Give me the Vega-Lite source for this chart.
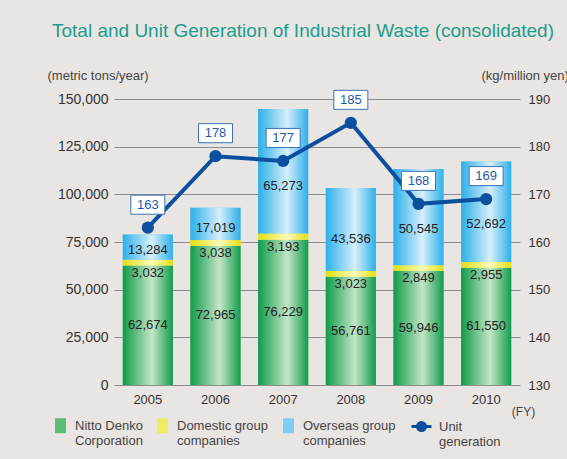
{
  "$schema": "https://vega.github.io/schema/vega-lite/v6.json",
  "width": 406,
  "height": 286,
  "autosize": {"type": "none"},
  "padding": {"left": 114, "top": 99, "right": 47, "bottom": 74},
  "background": "#e9e5e2",
  "config": {
    "view": {"stroke": null},
    "font": "Liberation Sans",
    "axis": {"labelFont": "Liberation Sans", "titleFont": "Liberation Sans", "labelColor": "#333333", "titleColor": "#444444", "titleFontWeight": "normal"},
    "legend": {"labelFont": "Liberation Sans", "labelColor": "#444444", "labelFontSize": 13}
  },
  "title": {
    "text": "Total and Unit Generation of Industrial Waste (consolidated)",
    "anchor": "start",
    "frame": "group",
    "dx": -62,
    "dy": -24,
    "fontSize": 19,
    "fontWeight": "normal",
    "font": "Liberation Sans",
    "color": "#1b9e8e"
  },
  "datasets": {
    "waste": [
      {"year": "2005", "segment": "Nitto Denko Corporation", "tons": 62674},
      {"year": "2005", "segment": "Domestic group companies", "tons": 3032},
      {"year": "2005", "segment": "Overseas group companies", "tons": 13284},
      {"year": "2006", "segment": "Nitto Denko Corporation", "tons": 72965},
      {"year": "2006", "segment": "Domestic group companies", "tons": 3038},
      {"year": "2006", "segment": "Overseas group companies", "tons": 17019},
      {"year": "2007", "segment": "Nitto Denko Corporation", "tons": 76229},
      {"year": "2007", "segment": "Domestic group companies", "tons": 3193},
      {"year": "2007", "segment": "Overseas group companies", "tons": 65273},
      {"year": "2008", "segment": "Nitto Denko Corporation", "tons": 56761},
      {"year": "2008", "segment": "Domestic group companies", "tons": 3023},
      {"year": "2008", "segment": "Overseas group companies", "tons": 43536},
      {"year": "2009", "segment": "Nitto Denko Corporation", "tons": 59946},
      {"year": "2009", "segment": "Domestic group companies", "tons": 2849},
      {"year": "2009", "segment": "Overseas group companies", "tons": 50545},
      {"year": "2010", "segment": "Nitto Denko Corporation", "tons": 61550},
      {"year": "2010", "segment": "Domestic group companies", "tons": 2955},
      {"year": "2010", "segment": "Overseas group companies", "tons": 52692}
    ],
    "unit": [
      {"year": "2005", "unit": 163},
      {"year": "2006", "unit": 178},
      {"year": "2007", "unit": 177},
      {"year": "2008", "unit": 185},
      {"year": "2009", "unit": 168},
      {"year": "2010", "unit": 169}
    ]
  },
  "layer": [
    {
      "data": {"name": "waste"},
      "transform": [{"stack": "tons", "groupby": ["year"], "as": ["t0", "t1"]}],
      "layer": [
        {
          "mark": {"type": "bar"},
          "encoding": {
            "x": {
              "field": "year", "type": "nominal",
              "scale": {"paddingInner": 0.26, "paddingOuter": 0.13},
              "axis": {"title": "(FY)", "titleX": 409, "titleY": 26, "titleAlign": "center", "titleBaseline": "middle", "titleFontSize": 12, "labelAngle": 0, "domain": false, "ticks": false, "labelPadding": 8, "labelFontSize": 13}
            },
            "y": {
              "field": "t0", "type": "quantitative",
              "scale": {"domain": [0, 150000], "nice": false},
              "title": "(metric tons/year)",
              "axis": {"titleAngle": 0, "titleX": -67, "titleY": -24, "titleAlign": "left", "titleBaseline": "middle", "titleFontSize": 13, "grid": true, "gridColor": "#8c8c8c", "domain": false, "ticks": false, "labelPadding": 6, "labelFontSize": 14, "values": [0, 25000, 50000, 75000, 100000, 125000, 150000], "labelExpr": "format(datum.value, ',')"}
            },
            "y2": {"field": "t1"},
            "color": {
              "field": "segment", "type": "nominal",
              "scale": {
                "domain": ["Nitto Denko Corporation", "Domestic group companies", "Overseas group companies"],
                "range": ["#5cbd78", "#eeec60", "#7fcdf0"]
              },
              "legend": {
                "orient": "none", "legendX": -61, "legendY": 319, "direction": "horizontal", "columns": 3, "title": null,
                "symbolType": "M-0.733,-1H0.733V1H-0.733Z", "symbolSize": 225, "symbolStrokeWidth": 0,
                "columnPadding": 12, "labelOffset": 7, "labelBaseline": "middle",
                "labelExpr": "datum.label == 'Nitto Denko Corporation' ? ['Nitto Denko', 'Corporation'] : datum.label == 'Domestic group companies' ? ['Domestic group', 'companies'] : ['Overseas group', 'companies']",
                "encode": {
                  "labels": {"update": {"lineHeight": {"value": 15}}},
                  "symbols": {
                    "update": {
                      "fill": {"signal": "datum.value == 'Nitto Denko Corporation' ? {gradient: 'linear', x1: 0, y1: 0, x2: 1, y2: 0, stops: [{offset: 0, color: '#0f9b4b'}, {offset: 0.58, color: '#c4e6c6'}, {offset: 1, color: '#129c4c'}]} : datum.value == 'Domestic group companies' ? {gradient: 'linear', x1: 0, y1: 0, x2: 1, y2: 0, stops: [{offset: 0, color: '#e0df10'}, {offset: 0.58, color: '#fdfbb8'}, {offset: 1, color: '#e2e010'}]} : {gradient: 'linear', x1: 0, y1: 0, x2: 1, y2: 0, stops: [{offset: 0, color: '#2cb0ea'}, {offset: 0.58, color: '#d6effa'}, {offset: 1, color: '#2cb0ea'}]}"}
                    }
                  }
                }
              }
            }
          }
        },
        {
          "mark": {"type": "bar"},
          "encoding": {
            "x": {"field": "year", "type": "nominal"},
            "y": {"field": "t0", "type": "quantitative", "title": "(metric tons/year)"},
            "y2": {"field": "t1"},
            "color": {
              "condition": [
                {"test": "datum.segment == 'Nitto Denko Corporation'", "value": {"gradient": "linear", "x1": 0, "y1": 0, "x2": 1, "y2": 0, "stops": [{"offset": 0, "color": "#0f9b4b"}, {"offset": 0.58, "color": "#c4e6c6"}, {"offset": 1, "color": "#129c4c"}]}},
                {"test": "datum.segment == 'Domestic group companies'", "value": {"gradient": "linear", "x1": 0, "y1": 0, "x2": 1, "y2": 0, "stops": [{"offset": 0, "color": "#e0df10"}, {"offset": 0.58, "color": "#fdfbb8"}, {"offset": 1, "color": "#e2e010"}]}}
              ],
              "value": {"gradient": "linear", "x1": 0, "y1": 0, "x2": 1, "y2": 0, "stops": [{"offset": 0, "color": "#2cb0ea"}, {"offset": 0.58, "color": "#d6effa"}, {"offset": 1, "color": "#2cb0ea"}]}
            }
          }
        },
        {
          "mark": {"type": "text", "fontSize": 13, "color": "#222222", "font": "Liberation Sans", "baseline": "middle"},
          "encoding": {
            "x": {"field": "year", "type": "nominal"},
            "y": {"field": "tons", "type": "quantitative", "stack": "zero", "bandPosition": 0.5, "title": "(metric tons/year)"},
            "detail": {"field": "segment", "type": "nominal"},
            "order": {"field": "t0", "type": "quantitative"},
            "text": {"field": "tons", "type": "quantitative", "format": ",", "condition": {"test": "datum.segment != 'Nitto Denko Corporation'", "value": ""}}
          }
        },
        {
          "mark": {"type": "text", "fontSize": 13, "color": "#222222", "font": "Liberation Sans", "baseline": "middle"},
          "encoding": {
            "x": {"field": "year", "type": "nominal"},
            "y": {"field": "tons", "type": "quantitative", "stack": "zero", "bandPosition": 0.38, "title": "(metric tons/year)"},
            "detail": {"field": "segment", "type": "nominal"},
            "order": {"field": "t0", "type": "quantitative"},
            "text": {"field": "tons", "type": "quantitative", "format": ",", "condition": {"test": "datum.segment != 'Overseas group companies'", "value": ""}}
          }
        },
        {
          "transform": [{"filter": "datum.segment == 'Domestic group companies'"}],
          "mark": {"type": "text", "fontSize": 13, "color": "#222222", "font": "Liberation Sans", "baseline": "middle", "dy": 7},
          "encoding": {
            "x": {"field": "year", "type": "nominal"},
            "y": {"field": "t0", "type": "quantitative", "title": "(metric tons/year)"},
            "text": {"field": "tons", "type": "quantitative", "format": ","}
          }
        }
      ]
    },
    {
      "data": {"name": "unit"},
      "layer": [
        {
          "mark": {"type": "line", "strokeWidth": 4},
          "encoding": {
            "x": {"field": "year", "type": "nominal"},
            "y": {
              "field": "unit", "type": "quantitative",
              "scale": {"domain": [130, 190], "nice": false},
              "title": "(kg/million yen)",
              "axis": {"orient": "right", "titleAngle": 0, "titleX": -39, "titleY": -24, "titleAlign": "left", "titleBaseline": "middle", "titleFontSize": 13, "grid": false, "domain": false, "ticks": false, "labelPadding": 8, "labelFontSize": 13, "values": [130, 140, 150, 160, 170, 180, 190]}
            },
            "stroke": {
              "datum": "Unit generation", "type": "nominal",
              "scale": {"domain": ["Unit generation"], "range": ["#0b4f9e"]},
              "legend": {
                "orient": "none", "legendX": 296, "legendY": 316, "title": null,
                "symbolType": "M-1,0H1M-0.4,0A0.4,0.4 0 1,1 0.4,0A0.4,0.4 0 1,1 -0.4,0", "symbolSize": 400, "symbolStrokeWidth": 3,
                "symbolFillColor": "#0b4f9e", "labelOffset": 6, "labelBaseline": "middle",
                "labelExpr": "['Unit', 'generation']",
                "encode": {"labels": {"update": {"lineHeight": {"value": 15}}}}
              }
            }
          }
        },
        {
          "mark": {"type": "point", "filled": true, "size": 150, "color": "#0b4f9e", "opacity": 1},
          "encoding": {
            "x": {"field": "year", "type": "nominal"},
            "y": {"field": "unit", "type": "quantitative", "title": "(kg/million yen)"}
          }
        },
        {
          "mark": {"type": "point", "shape": "M-1,-0.56H1V0.56H-1Z", "size": 1156, "filled": true, "fill": "#ffffff", "stroke": "#3a73b8", "strokeWidth": 1, "yOffset": -23, "opacity": 1},
          "encoding": {
            "x": {"field": "year", "type": "nominal"},
            "y": {"field": "unit", "type": "quantitative", "title": "(kg/million yen)"}
          }
        },
        {
          "mark": {"type": "text", "dy": -23, "fontSize": 13, "color": "#1d5ba8", "font": "Liberation Sans"},
          "encoding": {
            "x": {"field": "year", "type": "nominal"},
            "y": {"field": "unit", "type": "quantitative", "title": "(kg/million yen)"},
            "text": {"field": "unit", "type": "quantitative"}
          }
        }
      ]
    }
  ],
  "resolve": {"scale": {"y": "independent"}}
}
